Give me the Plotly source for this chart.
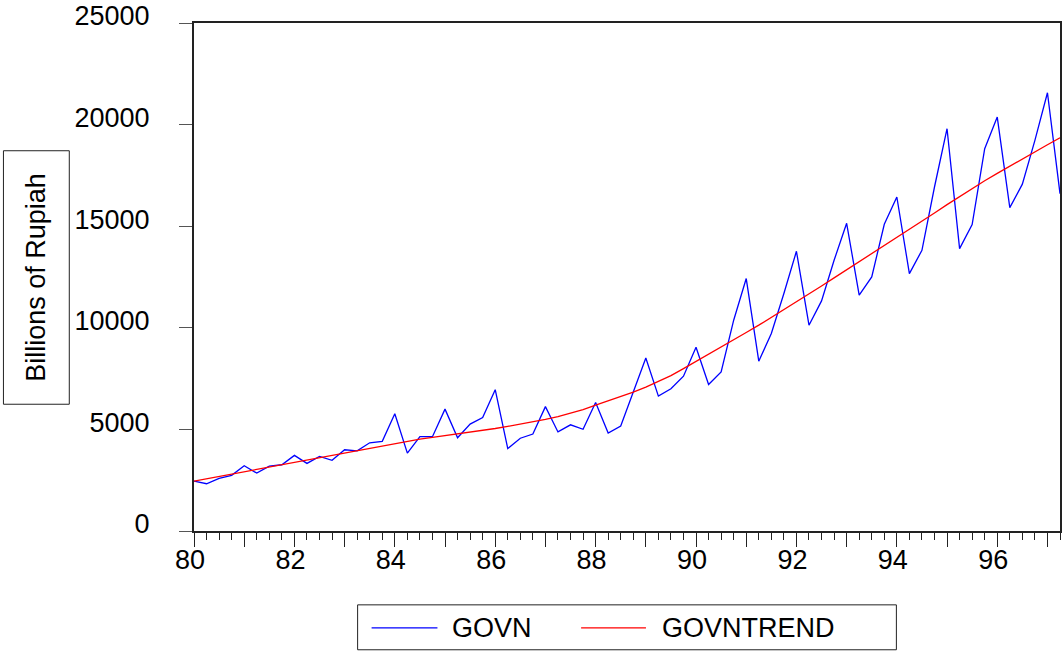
import plotly.graph_objects as go

# Quarterly observations, 1980Q1 .. 1997Q2 (billions of rupiah)
start_year = 80
govn = [
    2458, 2326, 2590, 2738, 3211, 2851, 3196, 3260,
    3721, 3328, 3672, 3476, 3997, 3948, 4341, 4410,
    5767, 3830, 4640, 4640, 5998, 4587, 5260, 5580,
    6955, 4055, 4565, 4769, 6120, 4875, 5226, 5008,
    6327, 4818, 5170, 6850, 8515, 6637, 6997, 7620,
    9040, 7212, 7832, 10374, 12423, 8358, 9718, 11685,
    13766, 10128, 11324, 13323, 15143, 11603, 12504, 15093,
    16437, 12668, 13815, 16929, 19797, 13897, 15077, 18815,
    20370, 15914, 17070, 19223, 21568, 16603,
]
govntrend = [
    2458, 2574, 2690, 2806, 2922, 3038, 3154, 3270,
    3386, 3502, 3618, 3734, 3850, 3966, 4082, 4198,
    4314, 4420, 4520, 4610, 4695, 4775, 4855, 4940,
    5045, 5150, 5255, 5365, 5490, 5630, 5795, 5975,
    6195, 6400, 6610, 6830, 7080, 7360, 7650, 7990,
    8340, 8680, 9030, 9400, 9770, 10130, 10510, 10890,
    11280, 11670, 12060, 12455, 12850, 13250, 13650, 14050,
    14450, 14850, 15250, 15650, 16060, 16460, 16850, 17235,
    17600, 17960, 18320, 18670, 19010, 19350,
]
year_ticks = list(range(80, 98))
year_labels = [str(y) if y % 2 == 0 else "" for y in year_ticks]
y_ticks = [0, 5000, 10000, 15000, 20000, 25000]
y_labels = ["0", "5000", "10000", "15000", "20000", "25000"]

t = [start_year + i / 4 for i in range(len(govn))]

FONT = "Liberation Sans, Arial, sans-serif"
W, H = 1063, 652
L, T, PW, PH = 194, 22, 868, 509


def px_x(x):
    return (x - L) / PW


def px_y(y):
    return (T + PH - y) / PH


fig = go.Figure()
fig.add_trace(go.Scatter(x=t, y=govn, mode="lines", name="GOVN",
                         line=dict(color="#0000FF", width=1.3)))
fig.add_trace(go.Scatter(x=t, y=govntrend, mode="lines", name="GOVNTREND",
                         line=dict(color="#FF0000", width=1.3)))

fig.update_layout(
    width=W, height=H,
    margin=dict(l=L, r=W - L - PW, t=T, b=H - T - PH),
    paper_bgcolor="white", plot_bgcolor="white",
    showlegend=False,
    font=dict(family=FONT, size=27, color="black"),
)

fig.update_xaxes(
    range=[80, 97.25], showgrid=False, zeroline=False,
    showline=True, linecolor="#222", linewidth=2, mirror=True,
    tickmode="array", tickvals=year_ticks, ticktext=year_labels,
    ticks="outside", ticklen=14, tickwidth=1, tickcolor="#222",
    ticklabelshift=-4, ticklabelstandoff=-10,
    minor=dict(dtick=0.25, tick0=80, ticks="outside", ticklen=7,
               tickwidth=1, tickcolor="#222", showgrid=False),
    tickfont=dict(size=27, family=FONT),
)
fig.update_yaxes(
    range=[0, 25000], showgrid=False, zeroline=False,
    showline=True, linecolor="#222", linewidth=2, mirror=True,
    tickmode="array", tickvals=y_ticks, ticktext=y_labels,
    ticks="outside", ticklen=13, tickwidth=1, tickcolor="#555",
    ticklabelstandoff=24, ticklabelshift=-7,
    tickfont=dict(size=27, family=FONT),
)

# Boxed axis title on the left
fig.add_shape(type="rect", xref="paper", yref="paper",
              x0=px_x(3), x1=px_x(69), y0=px_y(404), y1=px_y(150),
              line=dict(color="#222", width=1), fillcolor="white")
fig.add_annotation(xref="paper", yref="paper", x=px_x(36), y=px_y(277),
                   text="Billions of Rupiah", textangle=-90, showarrow=False,
                   font=dict(size=27, family=FONT, color="black"),
                   xanchor="center", yanchor="middle")

# Legend box under the chart
fig.add_shape(type="rect", xref="paper", yref="paper",
              x0=px_x(358), x1=px_x(898), y0=px_y(650), y1=px_y(605),
              line=dict(color="#222", width=1), fillcolor="white")
legend_items = [("GOVN", "#0000FF", 372, 438, 451),
                ("GOVNTREND", "#FF0000", 582, 647, 661)]
for name, color, lx0, lx1, tx in legend_items:
    fig.add_shape(type="line", xref="paper", yref="paper",
                  x0=px_x(lx0), x1=px_x(lx1), y0=px_y(628), y1=px_y(628),
                  line=dict(color=color, width=1.3))
    fig.add_annotation(xref="paper", yref="paper", x=px_x(tx), y=px_y(628),
                       text=name, showarrow=False, xanchor="left",
                       yanchor="middle",
                       font=dict(size=27, family=FONT, color="black"))

fig.write_html("out.html")
